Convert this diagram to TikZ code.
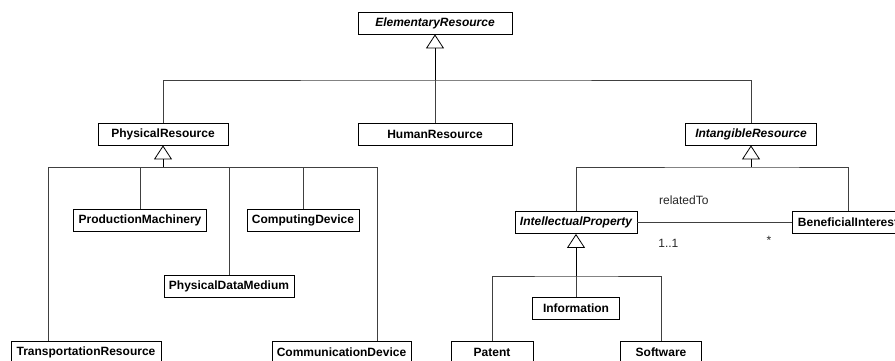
\documentclass[tikz,border=0pt]{standalone}
\usepackage{fontspec}
\setmainfont{Liberation Sans}
\usetikzlibrary{positioning, arrows.meta}

\begin{document}
\begin{tikzpicture}[x=1pt, y=-1pt,
                font=\fontsize{12}{14}\selectfont,
                cls/.style={rectangle, draw=black, line width=0.8pt, fill=white, inner sep=0pt,
                            minimum height=22pt, font=\fontsize{12}{14}\selectfont\bfseries},
                abstract/.style={cls, font=\fontsize{12}{14}\selectfont\bfseries\itshape},
                link/.style={draw=black!75, line width=0.8pt},
                gen/.style={draw=black, line width=0.8pt, -{Triangle[open, length=14pt, width=18pt]}},
                lbl/.style={inner sep=0pt, text=black!85}
                ]

                \clip (0,0) rectangle (895,360);

                % Nodes
                \node[abstract, minimum width=154pt] (elem_res) at (435,23) {ElementaryResource};
                \node[cls, minimum width=130pt] (phys_res) at (163,134) {PhysicalResource};
                \node[cls, minimum width=154pt] (human_res) at (435,134) {HumanResource};
                \node[abstract, minimum width=131pt] (intang_res) at (751,134) {IntangibleResource};

                \node[cls, minimum width=133pt] (prod_mach) at (140,220.5) {ProductionMachinery};
                \node[cls, minimum width=112pt] (comp_dev) at (303,220.5) {ComputingDevice};
                \node[cls, minimum width=130pt] (data_med) at (229,286.5) {PhysicalDataMedium};
                \node[cls, minimum width=150pt] (transp_res) at (86,352) {TransportationResource};
                \node[cls, minimum width=139pt] (comm_dev) at (341.5,352) {CommunicationDevice};

                \node[abstract, minimum width=122pt] (intel_prop) at (576,222.5) {IntellectualProperty};
                \node[cls, minimum width=111pt] (benef_int) at (848,222.5) {BeneficialInterest};
                \node[cls, minimum width=87pt] (info) at (576,308) {Information};
                \node[cls, minimum width=82pt] (patent) at (492,352) {Patent};
                \node[cls, minimum width=81pt] (software) at (661,352) {Software};

                % Bus points
                \coordinate (elem_bus) at (435,80);
                \coordinate (phys_bus) at (163,167);
                \coordinate (phys_l) at (48,167);
                \coordinate (phys_r) at (377,167);
                \coordinate (intang_bus) at (751,167);
                \coordinate (intel_bus) at (576,276);

                % Paths
                \draw[gen] (elem_bus) -- (elem_res.south);
                \draw[link] (phys_res.north) |- (elem_bus) -| (intang_res.north);
                \draw[link] (human_res.north) -- (elem_bus);

                \draw[gen] (phys_bus) -- (phys_res.south);
                \draw[link] (phys_l |- transp_res.north) -- (phys_l) -- (phys_r) -- (phys_r |- comm_dev.north);
                \draw[link] (prod_mach.north) -- (prod_mach.north |- phys_bus);
                \draw[link] (data_med.north) -- (data_med.north |- phys_bus);
                \draw[link] (comp_dev.north) -- (comp_dev.north |- phys_bus);

                \draw[gen] (intang_bus) -- (intang_res.south);
                \draw[link] (intel_prop.north) |- (intang_bus) -| (benef_int.north);

                \draw[gen] (intel_bus) -- (intel_prop.south);
                \draw[link] (patent.north) |- (intel_bus) -| (software.north);
                \draw[link] (info.north) -- (intel_bus);

                \path[link] (intel_prop.east) -- (benef_int.west)
                     node[lbl, pos=0.3, yshift=22pt] (rel_lbl) {relatedTo}
                     node[lbl, pos=0.2, yshift=-21pt] (mult_ip) {1..1}
                     node[lbl, pos=0.85, yshift=-18pt] (mult_bi) {*};
\end{tikzpicture}
\end{document}
